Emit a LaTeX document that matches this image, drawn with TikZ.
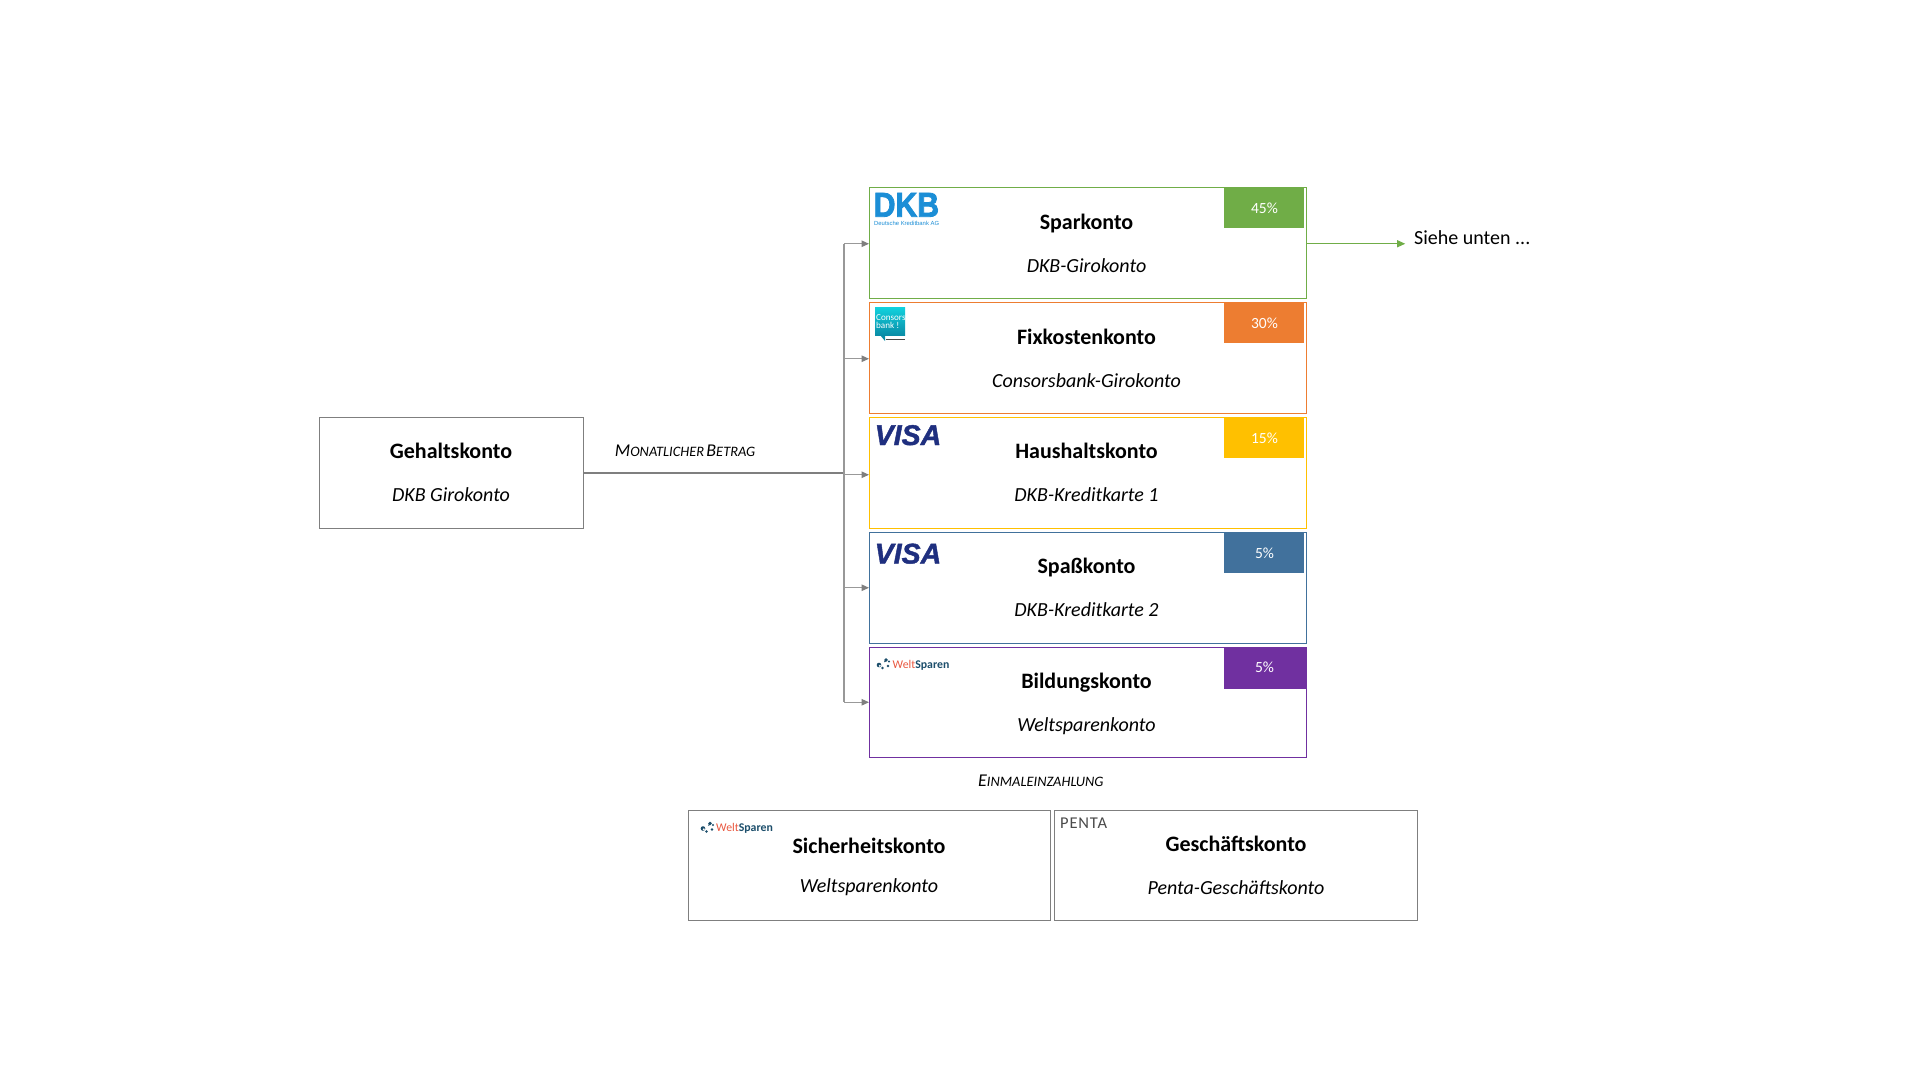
\documentclass[tikz,border=0pt]{standalone}
\usepackage{fontspec}
\usetikzlibrary{arrows.meta}
\setmainfont{Carlito}
\newfontfamily\logofont{Liberation Sans}
\newfontfamily\heavyfont[FakeBold=2.5]{Liberation Sans Bold}
\newfontfamily\visafont[FakeBold=1.5]{Liberation Sans Bold Italic}
\definecolor{cgreen}{HTML}{70AD47}
\definecolor{corange}{HTML}{ED7D31}
\definecolor{cyellow}{HTML}{FFC000}
\definecolor{cblue}{HTML}{41719C}
\definecolor{cpurple}{HTML}{7030A0}
\definecolor{cgray}{HTML}{7F7F7F}
\definecolor{dkbblue}{HTML}{1B8ED6}
\definecolor{visablue}{HTML}{1F2F7F}
\definecolor{weltred}{HTML}{E9573F}
\definecolor{weltdark}{HTML}{1C4E6B}
\definecolor{constop}{HTML}{12D2DE}
\definecolor{consbot}{HTML}{0A8CA6}
\definecolor{pentagray}{HTML}{4A4A4A}
\newcommand{\fs}[1]{\fontsize{#1}{#1}\selectfont}
\newcommand{\capA}[1]{{\fs{18}#1}}
\newcommand{\capB}[1]{{\fs{14.4}#1}}
\tikzset{
  acct/.style={draw=#1, line width=1pt, fill=white, anchor=north west, inner sep=0pt, outer sep=0pt, minimum width=437.7pt, minimum height=110.5pt},
  plainbox/.style={draw=cgray, line width=1pt, fill=white, anchor=north west, inner sep=0pt, outer sep=0pt},
  badge/.style={fill=#1, anchor=north west, inner sep=0pt, outer sep=0pt, minimum width=80pt, minimum height=41pt},
  pct/.style={text=white, anchor=base, inner sep=0pt, font=\fs{15.5}},
  title/.style={anchor=base, inner sep=0pt, font=\fs{22}\bfseries},
  sub/.style={anchor=base, inner sep=0pt, font=\fs{20}\itshape},
  note/.style={anchor=base west, inner sep=0pt, font=\itshape},
  feed/.style={draw=cgray!80, line width=1.1pt, -{Triangle[length=7.5pt,width=6.5pt,color=cgray]}},
  dkblogo/.style={anchor=base west, inner sep=0pt, text=dkbblue},
  visalogo/.style={anchor=base west, inner sep=0pt, text=visablue, font=\visafont\fs{28.5}},
  weltlogo/.style={anchor=base west, inner sep=0pt, font=\fs{11.8}},
}
\newcommand{\weltlogoicon}[2]{%
  \begin{scope}[shift={(#1,#2)}]
    \fill[weltdark] (2,-3) circle (2.3);
    \fill[weltdark] (5.5,0) circle (1.4);
    \fill[weltdark] (11,-2) circle (1.3);
    \fill[weltdark] (9,-8) circle (1.9);
    \fill[weltdark] (12,-6.5) circle (1.1);
    \fill[white] (2.8,-2.2) circle (1.1);
    \draw[weltdark, line width=1pt] (7.5,-6) -- (10,-9);
  \end{scope}}
\begin{document}
\begin{tikzpicture}[x=1pt,y=-1pt]
\useasboundingbox[fill=white] (0,0) rectangle (1920,1080);

% Source
\node[plainbox, minimum width=263.5pt, minimum height=110.5pt] (gehalt) at (319.5,417.5) {};
\node[title] (gehaltT) at (451,458) {Gehaltskonto};
\node[sub] (gehaltS) at (451,501) {DKB Girokonto};

% Accounts
\node[acct=cgreen] (spar) at (869,187.5) {};
\node[acct=corange] (fix) at (869,302.5) {};
\node[acct=cyellow] (haus) at (869,417.5) {};
\node[acct=cblue] (spass) at (869,532.5) {};
\node[acct=cpurple, minimum height=109.5pt] (bild) at (869,647.5) {};

\node[badge=cgreen] (b1) at (1224,187) {};
\node[badge=corange] (b2) at (1224,302) {};
\node[badge=cyellow] (b3) at (1224,417) {};
\node[badge=cblue] (b4) at (1224,532) {};
\node[badge=cpurple, minimum width=81.5pt, minimum height=42pt] (b5) at (1224,647) {};

\node[pct] (p1) at (1264.5,213) {45\%};
\node[pct] (p2) at (1264.5,328) {30\%};
\node[pct] (p3) at (1264.5,443) {15\%};
\node[pct] (p4) at (1264.5,558) {5\%};
\node[pct] (p5) at (1264.5,672) {5\%};

\node[title] (t1) at (1086.5,229.3) {Sparkonto};
\node[sub] (s1) at (1086.5,272.5) {DKB-Girokonto};
\node[title] (t2) at (1086.5,344.5) {Fixkostenkonto};
\node[sub] (s2) at (1086.5,387.5) {Consorsbank-Girokonto};
\node[title] (t3) at (1086.5,458.5) {Haushaltskonto};
\node[sub] (s3) at (1086.5,501.3) {DKB-Kreditkarte 1};
\node[title] (t4) at (1086.5,573.3) {Spaßkonto};
\node[sub] (s4) at (1086.5,616.3) {DKB-Kreditkarte 2};
\node[title] (t5) at (1086.5,688.5) {Bildungskonto};
\node[sub] (s5) at (1086.5,731.5) {Weltsparenkonto};

% Bottom boxes
\node[plainbox, minimum width=362pt, minimum height=110pt] (sicher) at (688.5,810) {};
\node[plainbox, minimum width=363pt, minimum height=110pt] (gesch) at (1054,810) {};
\node[title] (t6) at (869,853.5) {Sicherheitskonto};
\node[sub] (s6) at (869,892.5) {Weltsparenkonto};
\node[title] (t7) at (1236,851.5) {Geschäftskonto};
\node[sub] (s7) at (1236,894.3) {Penta-Geschäftskonto};

% Labels
\node[note] (monat) at (614.7,456.5) {\capA{M}\capB{ONATLICHER} \capA{B}\capB{ETRAG}};
\node[note] (einmal) at (978,786) {\capA{E}\capB{INMALEINZAHLUNG}};
\node[anchor=base west, inner sep=0pt, font=\fs{20}] (siehe) at (1414,244) {Siehe unten ...};

% Connectors
\coordinate (trunk) at (844,472.7);
\coordinate (trunkTop) at ([yshift=-1pt]trunk |- spar.west);
\coordinate (trunkBot) at (trunk |- bild.west);
\draw[cgray, line width=1.5pt] (gehalt.east) -- (gehalt.east -| trunk);
\draw[cgray!80, line width=1.1pt] (trunkTop) -- (trunkBot);
\draw[feed] (trunkTop) -- ([yshift=-1pt]spar.west);
\draw[feed] ([yshift=-1pt]trunk |- fix.west) -- ([yshift=-1pt]fix.west);
\draw[feed] ([yshift=-2pt]trunk |- haus.west) -- ([yshift=-2pt]haus.west);
\draw[feed] (trunk |- spass.west) -- (spass.west);
\draw[feed] (trunkBot) -- (bild.west);
\draw[draw=cgreen, line width=1pt, -{Triangle[length=8pt,width=7pt]}] ([yshift=-1pt]spar.east) -- ++(98.5,0) coordinate (sieheEnd);

% Logos
\node[dkblogo, font=\heavyfont\fs{34.5}, xscale=.875] (dkbL) at (873.5,216.7) {DKB};
\node[dkblogo, font=\logofont\fs{5.9}] (dkbS) at (874,225.7) {Deutsche Kreditbank AG};

\node[inner sep=0pt, outer sep=0pt, anchor=north west, minimum width=30pt, minimum height=28.5pt, top color=constop, bottom color=consbot] (cons) at (875,307) {};
\fill[consbot] (880,335) -- (885,341) -- (885,335) -- cycle;
\draw[pentagray, line width=.7pt] (886,339.3) -- (905,339.3);
\node[anchor=base west, inner sep=0pt, text=white, font=\fs{9.1}] (consA) at (876,320) {Consors};
\node[anchor=base west, inner sep=0pt, text=white, font=\fs{9.1}] (consB) at (876,328) {bank !};

\node[visalogo] (visa1) at (874.5,445) {VISA};
\node[visalogo] (visa2) at (874.5,563.5) {VISA};

\weltlogoicon{877}{668}
\node[weltlogo] (welt1) at (892.5,668) {\textcolor{weltred}{Welt}\textcolor{weltdark}{\bfseries Sparen}};
\weltlogoicon{701}{831.5}
\node[weltlogo] (welt2) at (716,831.5) {\textcolor{weltred}{Welt}\textcolor{weltdark}{\bfseries Sparen}};

\node[anchor=base west, inner sep=0pt, text=pentagray, font=\addfontfeature{LetterSpace=5}\fs{16.5}] (penta) at (1060,828) {PENTA};
\end{tikzpicture}
\end{document}
